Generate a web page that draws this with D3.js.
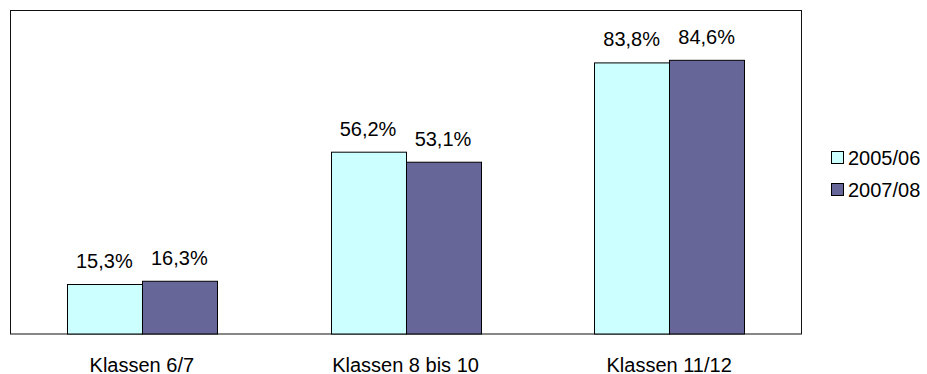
<!DOCTYPE html>
<html>
<head>
<meta charset="utf-8">
<script src="https://cdn.jsdelivr.net/npm/d3@7"></script>
<style>
  html, body { margin: 0; padding: 0; background: #fff; }
  svg { display: block; font-family: "Liberation Sans", Arial, sans-serif; }
</style>
</head>
<body>
<svg id="chart" width="927" height="374"></svg>
<script>
// Anteil je Klassenstufe, zwei Erhebungsjahre
const categories = ["Klassen 6/7", "Klassen 8 bis 10", "Klassen 11/12"];
const seriesNames = ["2005/06", "2007/08"];
const values2005 = [15.3, 56.2, 83.8];
const values2007 = [16.3, 53.1, 84.6];
const seriesColors = ["#CCFFFF", "#666699"];

const series = [values2005, values2007];

const svg = d3.select("#chart");
const plot = { left: 10, top: 10, right: 801, bottom: 333.5 };

const x = d3.scaleBand()
  .domain(categories)
  .range([plot.left, plot.right])
  .paddingInner(0)
  .paddingOuter(0);

const inner = d3.scaleBand()
  .domain(seriesNames)
  .range([0, x.bandwidth()])
  .paddingInner(0)
  .paddingOuter(0.758);

const y = d3.scaleLinear().domain([0, 100]).range([plot.bottom, plot.top]);

// plot frame
svg.append("rect")
  .attr("x", plot.left + 0.5)
  .attr("y", plot.top + 0.5)
  .attr("width", plot.right - plot.left)
  .attr("height", plot.bottom - plot.top)
  .attr("fill", "none")
  .attr("stroke", "#111")
  .attr("stroke-width", 1);

const fmt = v => d3.format(".1f")(v).replace(".", ",") + "%";

seriesNames.forEach((name, si) => {
  const g = svg.append("g");
  const data = categories.map((c, i) => ({ c, v: series[si][i] }));
  g.selectAll("rect")
    .data(data)
    .join("rect")
    .attr("x", d => Math.round(x(d.c) + inner(name)) + 0.5)
    .attr("y", d => y(d.v) + 0.5)
    .attr("width", inner.bandwidth())
    .attr("height", d => plot.bottom - y(d.v))
    .attr("fill", seriesColors[si])
    .attr("stroke", "#000")
    .attr("stroke-width", 1);

  g.selectAll("text")
    .data(data)
    .join("text")
    .attr("x", d => x(d.c) + inner(name) + inner.bandwidth() / 2)
    .attr("y", d => y(d.v) - 16)
    .attr("text-anchor", "middle")
    .attr("font-size", 20)
    .attr("fill", "#000")
    .text(d => fmt(d.v));
});

// category labels
const xAxis = d3.axisBottom(x).tickSize(0).tickPadding(0);
const ax = svg.append("g")
  .attr("transform", `translate(0,${plot.bottom})`)
  .call(xAxis);
ax.select(".domain").remove();
ax.selectAll("text")
  .attr("font-size", 20)
  .attr("font-family", "Liberation Sans, Arial, sans-serif")
  .attr("fill", "#000")
  .attr("dy", null)
  .attr("y", 38);

// legend
const legend = svg.append("g");
seriesNames.forEach((name, i) => {
  const cy = 158 + i * 32;
  legend.append("rect")
    .attr("x", 831.5)
    .attr("y", cy - 6.5)
    .attr("width", 12)
    .attr("height", 12)
    .attr("fill", seriesColors[i])
    .attr("stroke", "#000")
    .attr("stroke-width", 1);
  legend.append("text")
    .attr("x", 848)
    .attr("y", cy + 7)
    .attr("font-size", 20)
    .attr("fill", "#000")
    .text(name);
});
</script>
</body>
</html>
